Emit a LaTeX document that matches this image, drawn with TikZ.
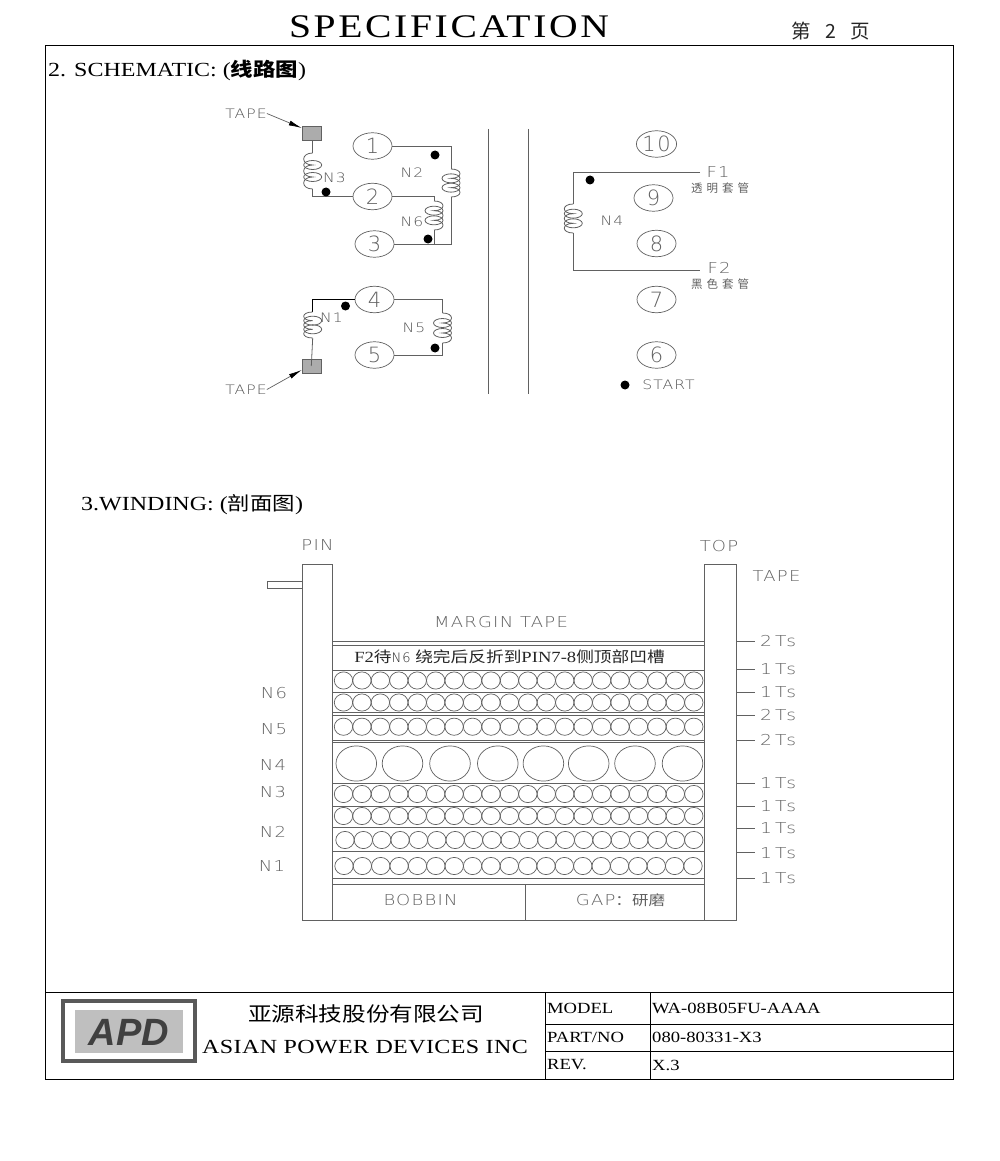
\documentclass[tikz,border=0pt]{standalone}
\usepackage{fontspec}
\setmainfont[FakeStretch=1.2]{Liberation Serif}
\newfontfamily\cad[LetterSpace=8]{DejaVu Sans ExtraLight}
\newfontfamily\cadw[LetterSpace=8,FakeStretch=1.2]{DejaVu Sans ExtraLight}
\newfontfamily\cadts[LetterSpace=20,FakeStretch=1.25]{DejaVu Sans ExtraLight}
\newfontfamily\cjk{Noto Sans CJK SC}
\newfontfamily\cjks[FakeStretch=1.18]{Noto Sans CJK SC}
\usetikzlibrary{shapes.geometric,arrows.meta}
\definecolor{ink}{gray}{0.38}
\tikzset{
  x=1pt,y=-1pt,
  wire/.style={draw=ink,line width=0.8pt},
  thin line/.style={draw=ink,line width=0.7pt},
  frameline/.style={draw=black,line width=1pt},
  pinnode/.style={ellipse,draw=ink,line width=0.7pt,minimum width=39pt,minimum height=26.5pt,inner sep=0pt,font=\cad\fontsize{21}{21}\selectfont,text=ink},
  cadtext/.style={inner sep=0pt,font=\cadw\fontsize{13}{13}\selectfont,text=ink!90!black},
  bigcad/.style={inner sep=0pt,font=\cadw\fontsize{15}{15}\selectfont,text=ink},
  tscad/.style={inner sep=0pt,anchor=west,font=\cadts\fontsize{15}{15}\selectfont,text=ink},
  smallcjk/.style={inner sep=0pt,font=\cjk\fontsize{11.5}{11.5}\selectfont,text=ink},
  blocktext/.style={inner sep=0pt,anchor=west,font=\fontsize{15.5}{15.5}\selectfont},
  startdot/.style={circle,fill=black,inner sep=0pt,minimum width=9pt,minimum height=8pt},
  tapebox/.style={rectangle,draw=ink,fill=gray!65,line width=0.6pt,minimum width=19pt,minimum height=14pt,inner sep=0pt},
  leader/.style={draw=ink,line width=0.7pt,-{Latex[length=13pt,width=5pt,black]}},
}
\newcommand{\coilshape}[4]{%
  \pgfmathsetmacro{\hh}{(#3-#2)/3}
  \pgfmathsetmacro{\ya}{#2+\hh}
  \pgfmathsetmacro{\yb}{#2+2*\hh}
  \pgfmathsetmacro{\xx}{#1+#4*12}
  \draw[wire] (#1,#2) .. controls (\xx,#2) and (\xx,\ya) .. (#1,\ya)
     .. controls (\xx,\ya) and (\xx,\yb) .. (#1,\yb)
     .. controls (\xx,\yb) and (\xx,#3) .. (#1,#3);
  \draw[wire] (#1,\ya) ellipse [x radius=9pt,y radius=4.5pt];
  \draw[wire] (#1,\yb) ellipse [x radius=9pt,y radius=4.5pt];
}
\newcommand{\turnrow}[3]{% y, first x, last x
  \pgfmathsetmacro{\stp}{(#3-#2)/19}
  \foreach \i in {0,...,19}{
    \pgfmathsetmacro{\cx}{#2+\i*\stp}
    \draw[thin line] (\cx,#1) ellipse [x radius=9.2pt,y radius=8.6pt];
  }
}
\begin{document}
\begin{tikzpicture}
\useasboundingbox (0,0) rectangle (1000,1161);
\fill[white] (0,0) rectangle (1000,1161);
% Title and frame
\node[inner sep=0pt,font=\addfontfeature{LetterSpace=8}\fontsize{33}{33}\selectfont] (title) at (449,27) {SPECIFICATION};
\node[inner sep=0pt,font=\cjk\fontsize{19.5}{19.5}\selectfont,text=black!85] (page) at (830.5,31) {第\hspace{15pt}2\hspace{14pt}页};
\draw[frameline] (45,46) rectangle (953,1079);
\node[inner sep=0pt,anchor=west,font=\fontsize{20}{20}\selectfont] (sec2) at (48,70.5) {2. SCHEMATIC: ({\cjks\bfseries\fontsize{19}{19}\selectfont 线路图})};
\node[inner sep=0pt,anchor=west,font=\fontsize{20}{20}\selectfont] (sec3) at (81,504.5) {3.WINDING: ({\cjks\fontsize{19}{19}\selectfont 剖面图})};

% Schematic: pins
\node[pinnode] (p1) at (372.5,146) {1};
\node[pinnode] (p2) at (372.5,196.5) {2};
\node[pinnode] (p3) at (374.5,244) {3};
\node[pinnode] (p4) at (374.5,299.5) {4};
\node[pinnode] (p5) at (374.5,355) {5};
\node[pinnode] (p10) at (656.5,144) {10};
\node[pinnode] (p9) at (653.5,198) {9};
\node[pinnode] (p8) at (656.5,243.5) {8};
\node[pinnode] (p7) at (656.5,299.5) {7};
\node[pinnode] (p6) at (656.5,355) {6};
% tapes
\node[tapebox] (tapeA) at (311.3,133) {};
\node[tapebox] (tapeB) at (311.3,366) {};
\node[cadtext] (lA) at (246,113.5) {TAPE};
\node[cadtext] (lB) at (246,389.5) {TAPE};
\coordinate (tipA) at (301.7,128);
\coordinate (tipB) at (301.7,370);
\draw[leader] (lA.east) -- (tipA);
\draw[leader] (lB.east) -- (tipB);
% N3
\coordinate (n3t) at (312.7,153);
\coordinate (n3b) at (312.7,189);
\draw[wire] (tapeA.south -| n3t) -- (n3t);
\coilshape{312.7}{153}{189}{-1}
\draw[wire] (n3b) |- (p2.west);
% N2
\coordinate (n2t) at (451,169);
\coordinate (n2b) at (451,197);
\draw[wire] (p1.east) -| (n2t);
\coilshape{451}{169}{197}{1}
\draw[wire] (n2b) |- (p3.east);
% N6
\coordinate (n6t) at (434,201);
\coordinate (n6b) at (434,230);
\draw[wire] (p2.east) -| (n6t);
\coilshape{434}{201}{230}{1}
\draw[wire] (n6b) -- (n6b |- p3.east);
% N1
\coordinate (n1t) at (312.7,312);
\coordinate (n1b) at (312.7,338);
\draw[draw=black,line width=1.1pt] (p4.west) -| (n1t);
\coilshape{312.7}{312}{338}{-1}
\draw[wire] (n1b) -- (tapeB.center);
% N5
\coordinate (n5t) at (442.5,313);
\coordinate (n5b) at (442.5,343);
\draw[wire] (p4.east) -| (n5t);
\coilshape{442.5}{313}{343}{1}
\draw[wire] (n5b) |- (p5.east);
% N4
\coordinate (f1) at (700,172.3);
\coordinate (f2) at (700,270);
\coordinate (n4t) at (573.3,204);
\coordinate (n4b) at (573.3,233);
\draw[wire] (f1) -| (n4t);
\coilshape{573.3}{204}{233}{-1}
\draw[wire] (n4b) |- (f2);
% dots
\foreach \nm/\dx/\dy in {d2/435/155,d3/326/192,d6/428/239,d1/345.5/306,d5/435/348,d4/590/180,ds/625/385}{
  \node[startdot] (\nm) at (\dx,\dy) {};
}
% schematic labels
\node[cadtext] (tN3) at (334.5,177.5) {N3};
\node[cadtext] (tN2) at (412,173) {N2};
\node[cadtext] (tN6) at (412,222) {N6};
\node[cadtext] (tN1) at (331.5,318) {N1};
\node[cadtext] (tN5) at (414,328) {N5};
\node[cadtext] (tN4) at (612,221) {N4};
\node[bigcad] (tF1) at (718,172) {F1};
\node[bigcad] (tF2) at (719,268) {F2};
\node[smallcjk] (tc1) at (720,188) {透\hspace{4pt}明\hspace{4pt}套\hspace{4pt}管};
\node[smallcjk] (tc2) at (720,284) {黑\hspace{4pt}色\hspace{4pt}套\hspace{4pt}管};
\node[cadtext] (tStart) at (668.5,385) {START};
% divider lines
\draw[thin line] (488,129) -- (488,394);
\draw[thin line] (528,129) -- (528,394);

% Winding
\node[bigcad] (tPin) at (317.5,545) {PIN};
\node[bigcad] (tTop) at (719,546) {TOP};
\node[bigcad] (tTape) at (776.5,576) {TAPE};
\node[bigcad] (tMargin) at (501,622) {MARGIN TAPE};
\draw[thin line] (302,564) rectangle (332.3,920);
\draw[thin line] (704.7,564) rectangle (736.7,920);
\draw[thin line] (267,581) rectangle (302,588.5);
\draw[thin line] (332.3,920) -- (704.7,920);
\draw[thin line] (525.7,884.3) -- (525.7,920);
\foreach \yy in {641,645.3,670,692.3,712.7,715.3,740.7,742.7,783.3,806,827.7,851.3,878.3,884.3}{
  \draw[thin line] (332.3,\yy) -- (704.7,\yy);
}
\turnrow{680.5}{343.5}{693.8}
\turnrow{702.5}{343.5}{693.8}
\turnrow{726.7}{343.5}{693.8}
\turnrow{794}{343.5}{693.8}
\turnrow{816}{343.5}{693.8}
\turnrow{840}{345}{693.8}
\turnrow{866}{344}{693}
\foreach \cx in {356.3,402.5,450,497.8,543.4,588.7,635,682.5}{
  \draw[thin line] (\cx,763.5) ellipse [x radius=20.3pt,y radius=17.6pt];
}
\node[inner sep=0pt,font=\fontsize{15.5}{15.5}\selectfont,text=black!85] (tNote) at (509.5,656.5) {F2{\cjks\fontsize{15}{15}\selectfont 待}{\cad\fontsize{13}{13}\selectfont N6} {\cjks\fontsize{15}{15}\selectfont 绕完后反折到}PIN7-8{\cjks\fontsize{15}{15}\selectfont 侧顶部凹槽}};
\foreach \nm/\ty/\tx/\lab in {a/693/274/N6,b/729/274/N5,c/765/273/N4,d/792/273/N3,e/832/273/N2,f/866/272/N1}{
  \node[bigcad] (lay\nm) at (\tx,\ty) {\lab};
}
\foreach \nm/\ty/\lab in {a/641.5/2Ts,b/669/1Ts,c/692.3/1Ts,d/715/2Ts,e/740/2Ts,f/783.3/1Ts,g/806/1Ts,h/828.3/1Ts,i/852.7/1Ts,j/878.3/1Ts}{
  \node[tscad] (ts\nm) at (760,\ty) {\lab};
  \draw[thin line] (736.7,\ty) -- ([xshift=-5pt]ts\nm.west);
}
\node[bigcad] (tBob) at (420.5,900) {BOBBIN};
\node[bigcad] (tGap) at (620.5,900) {GAP{\cjks\fontsize{14}{14}\selectfont ：研磨}};

% Title block
\draw[frameline] (45,992) -- (953,992);
\draw[frameline] (545,992) -- (545,1079);
\draw[frameline] (650,992) -- (650,1079);
\draw[frameline] (545,1024) -- (953,1024);
\draw[frameline] (545,1051) -- (953,1051);
\node[blocktext] (bm) at (547,1008) {MODEL};
\node[blocktext] (bp) at (547,1037.5) {PART/NO};
\node[blocktext] (br) at (547,1065) {REV.};
\node[blocktext] (vm) at (652,1008) {WA-08B05FU-AAAA};
\node[blocktext] (vp) at (652,1037.5) {080-80331-X3};
\node[blocktext] (vr) at (652,1065) {X.3};
\node[inner sep=0pt,font=\cjks\fontsize{20}{20}\selectfont] (co1) at (366,1014) {亚源科技股份有限公司};
\node[inner sep=0pt,font=\addfontfeature{LetterSpace=2}\fontsize{20}{20}\selectfont] (co2) at (365,1047.5) {ASIAN POWER DEVICES INC};
% logo
\draw[draw=black!65,line width=4.5pt] (63,1001.2) rectangle (194.8,1060.8);
\fill[gray!50] (75,1010) rectangle (183,1053);
\node[inner sep=0pt,font=\fontspec{Liberation Sans}\bfseries\itshape\fontsize{38}{38}\selectfont,text=black!75] (logo) at (129,1032) {APD};
\end{tikzpicture}
\end{document}
